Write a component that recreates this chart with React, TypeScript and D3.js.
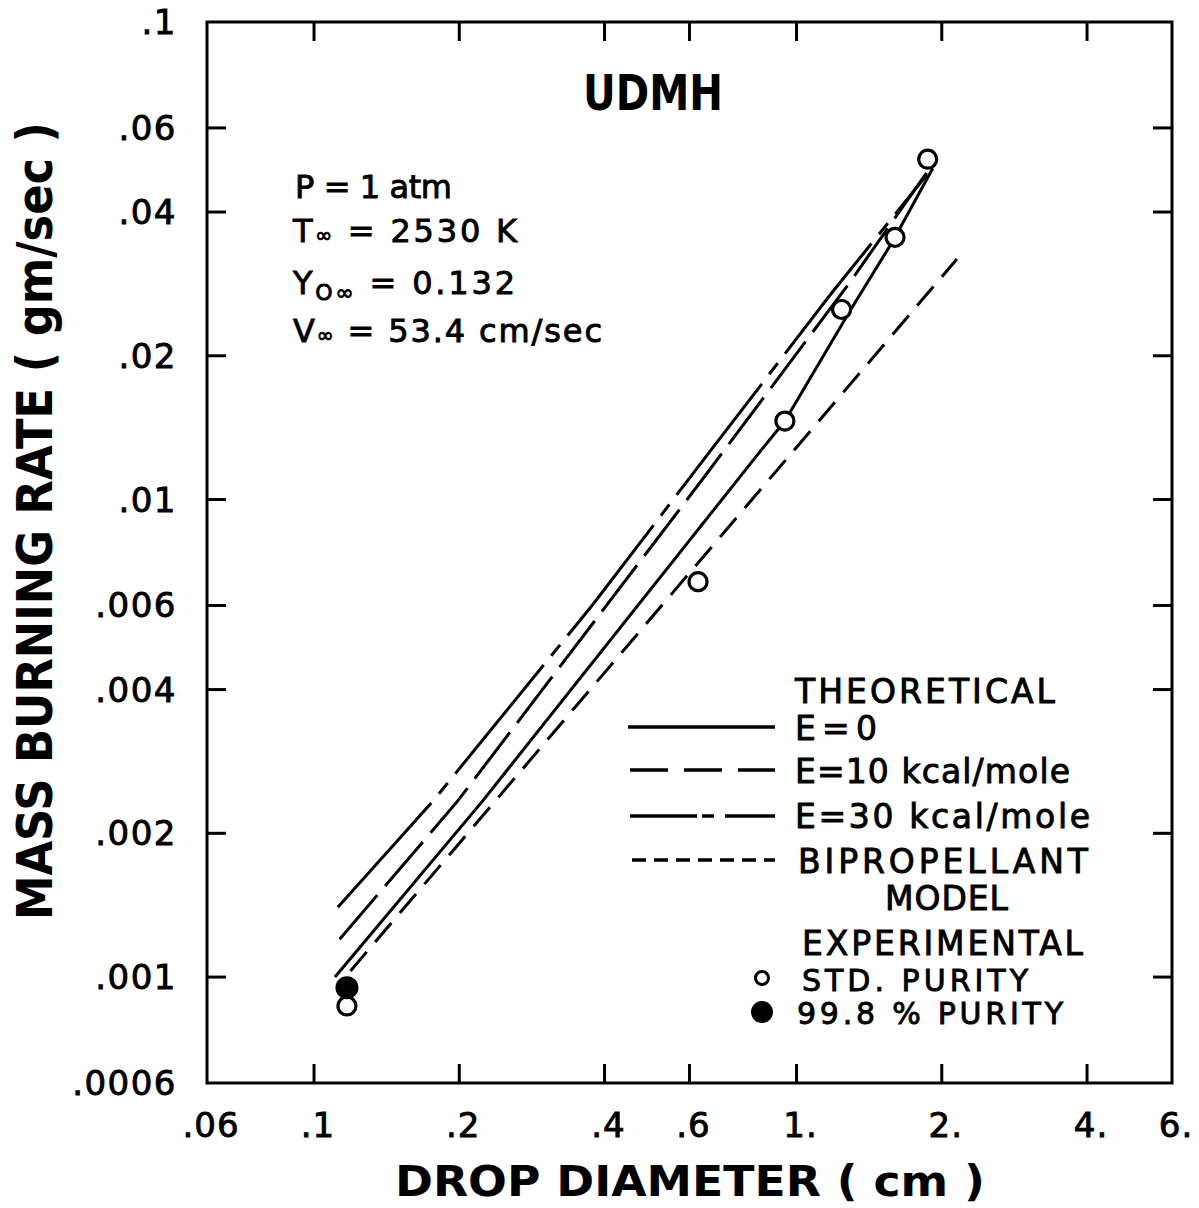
import React from 'react';
import * as d3 from 'd3';

const xTicks = [0.06, 0.1, 0.2, 0.4, 0.6, 1, 2, 4, 6];
const xTickLabels = ['.06', '.1', '.2', '.4', '.6', '1.', '2.', '4.', '6.'];
const yTicks = [0.0006, 0.001, 0.002, 0.004, 0.006, 0.01, 0.02, 0.04, 0.06, 0.1];
const yTickLabels = ['.0006', '.001', '.002', '.004', '.006', '.01', '.02', '.04', '.06', '.1'];

// Theoretical curves (drop diameter cm, mass burning rate gm/sec)
const e0Diam = [0.1105, 0.223, 0.84, 0.946, 1.289, 1.583, 1.916];
const e0Rate = [0.001, 0.00233, 0.0126, 0.0146, 0.0248, 0.03475, 0.0494];
const e10Diam = [0.113, 0.198, 0.646, 1.28, 1.86];
const e10Rate = [0.0012, 0.00233, 0.0112, 0.0282, 0.0483];
const e30Diam = [0.112, 0.176, 0.378, 0.661, 1.18, 1.86];
const e30Rate = [0.0014, 0.00233, 0.00602, 0.0126, 0.027, 0.0478];
const biDiam = [0.119, 2.15];
const biRate = [0.00103, 0.0319];

// Experimental points
const stdDiam = [0.117, 0.625, 0.946, 1.24, 1.6, 1.87];
const stdRate = [0.00087, 0.00673, 0.0146, 0.025, 0.0354, 0.0516];
const pureDiam = [0.117];
const pureRate = [0.00095];

const FONT = "'DejaVu Sans', sans-serif";

export default function App() {
  const x = d3.scaleLog().domain([0.06, 6]).range([207, 1172]);
  const y = d3.scaleLog().domain([0.0006, 0.1]).range([1083, 22]);
  const line = d3
    .line<[number, number]>()
    .x((d) => x(d[0]))
    .y((d) => y(d[1]));
  const pts = (a: number[], b: number[]) => a.map((v, i) => [v, b[i]] as [number, number]);

  const left = x.range()[0];
  const right = x.range()[1];
  const top = y.range()[1];
  const bottom = y.range()[0];
  const tl = 19;

  const txt = { fontFamily: FONT, fill: '#000' } as const;
  const med = { ...txt, stroke: '#000', strokeWidth: 0.9 } as const;

  return (
    <svg width={1199} height={1208} style={{ display: 'block', position: 'absolute', left: 0, top: 0, background: '#fff' }}>
      <rect x={0} y={0} width={1199} height={1208} fill="#fff" />
      {/* frame */}
      <rect x={left} y={top} width={right - left} height={bottom - top} fill="none" stroke="#000" strokeWidth={3} />
      {xTicks.slice(1, -1).map((t, i) => (
        <g key={'xt' + i}>
          <line x1={x(t)} x2={x(t)} y1={bottom} y2={bottom - tl} stroke="#000" strokeWidth={3} />
          <line x1={x(t)} x2={x(t)} y1={top} y2={top + tl} stroke="#000" strokeWidth={3} />
        </g>
      ))}
      {yTicks.slice(1, -1).map((t, i) => (
        <g key={'yt' + i}>
          <line x1={left} x2={left + tl} y1={y(t)} y2={y(t)} stroke="#000" strokeWidth={3} />
          <line x1={right} x2={right - tl} y1={y(t)} y2={y(t)} stroke="#000" strokeWidth={3} />
        </g>
      ))}
      {/* tick labels */}
      {xTicks.map((t, i) => (
        <text key={'xl' + i} x={x(t) + 4} y={1137} textAnchor="middle" fontSize={34} letterSpacing={1} {...med}>
          {xTickLabels[i]}
        </text>
      ))}
      {yTicks.map((t, i) => (
        <text key={'yl' + i} x={177} y={y(t) + 12} textAnchor="end" fontSize={34} letterSpacing={1.5} {...med}>
          {yTickLabels[i]}
        </text>
      ))}
      {/* axis titles */}
      <text x={690} y={1196} textAnchor="middle" fontSize={43} fontWeight="bold" textLength={590} lengthAdjust="spacingAndGlyphs" {...txt}>
        DROP DIAMETER ( cm )
      </text>
      <text
        transform="translate(52,521) rotate(-90)"
        textAnchor="middle"
        fontSize={50}
        fontWeight="bold"
        textLength={798}
        lengthAdjust="spacingAndGlyphs"
        {...txt}
      >
        MASS BURNING RATE ( gm/sec )
      </text>
      <text x={653} y={110} textAnchor="middle" fontSize={50} fontWeight="bold" textLength={140} lengthAdjust="spacingAndGlyphs" {...txt}>
        UDMH
      </text>
      {/* parameters */}
      <text x={295} y={198} fontSize={32} textLength={157} lengthAdjust="spacing" {...med}>
        P = 1 atm
      </text>
      <text x={293} y={242} fontSize={32} textLength={224} lengthAdjust="spacing" {...med}>
        T<tspan fontSize={20}>∞</tspan> = 2530  K
      </text>
      <text x={293} y={294} fontSize={32} textLength={222} lengthAdjust="spacing" {...med}>
        Y<tspan fontSize={22} dy={6}>O∞</tspan><tspan dy={-6}> = 0.132</tspan>
      </text>
      <text x={293} y={342} fontSize={32} textLength={309} lengthAdjust="spacing" {...med}>
        V<tspan fontSize={20}>∞</tspan> = 53.4  cm/sec
      </text>
      {/* curves */}
      <path d={line(pts(e30Diam, e30Rate)) || ''} fill="none" stroke="#000" strokeWidth={3} strokeDasharray="140,12,14,12" />
      <path d={line(pts(e10Diam, e10Rate)) || ''} fill="none" stroke="#000" strokeWidth={3} strokeDasharray="58,12" />
      <path d={line(pts(e0Diam, e0Rate)) || ''} fill="none" stroke="#000" strokeWidth={3} strokeLinejoin="round" />
      <path d={line(pts(biDiam, biRate)) || ''} fill="none" stroke="#000" strokeWidth={3} strokeDasharray="25,13" />
      {/* points */}
      {stdDiam.map((d, i) => (
        <circle key={'s' + i} cx={x(d)} cy={y(stdRate[i])} r={9} fill="#fff" stroke="#000" strokeWidth={3.2} />
      ))}
      {pureDiam.map((d, i) => (
        <circle key={'p' + i} cx={x(d)} cy={y(pureRate[i])} r={11.5} fill="#000" />
      ))}
      {/* legend */}
      <text x={795} y={703} fontSize={33} textLength={260} lengthAdjust="spacing" {...med}>THEORETICAL</text>
      <line x1={628} x2={775} y1={727} y2={727} stroke="#000" strokeWidth={3.5} />
      <text x={795} y={740} fontSize={33} textLength={82} lengthAdjust="spacing" {...med}>E=0</text>
      <line x1={630} x2={775} y1={770} y2={770} stroke="#000" strokeWidth={3.5} strokeDasharray="38,16" />
      <text x={795} y={783} fontSize={33} textLength={275} lengthAdjust="spacing" {...med}>E=10 kcal/mole</text>
      <line x1={630} x2={775} y1={816} y2={816} stroke="#000" strokeWidth={3.5} strokeDasharray="67,5,12,11,60" />
      <text x={795} y={828} fontSize={33} textLength={295} lengthAdjust="spacing" {...med}>E=30 kcal/mole</text>
      <line x1={632} x2={775} y1={860} y2={860} stroke="#000" strokeWidth={3.5} strokeDasharray="14,8" />
      <text x={798} y={873} fontSize={33} textLength={290} lengthAdjust="spacing" {...med}>BIPROPELLANT</text>
      <text x={885} y={910} fontSize={33} textLength={123} lengthAdjust="spacing" {...med}>MODEL</text>
      <text x={802} y={955} fontSize={33} textLength={281} lengthAdjust="spacing" {...med}>EXPERIMENTAL</text>
      <circle cx={762} cy={978} r={6.5} fill="#fff" stroke="#000" strokeWidth={3} />
      <text x={802} y={991} fontSize={30} textLength={226} lengthAdjust="spacing" {...med}>STD. PURITY</text>
      <circle cx={762} cy={1012} r={11} fill="#000" />
      <text x={797} y={1024} fontSize={30} textLength={266} lengthAdjust="spacing" {...med}>99.8 % PURITY</text>
    </svg>
  );
}
